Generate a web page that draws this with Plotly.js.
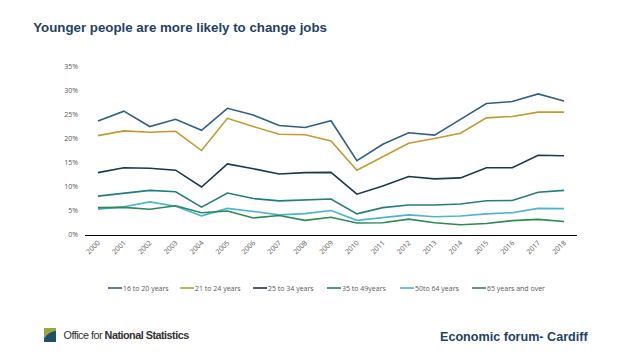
<!DOCTYPE html>
<html><head><meta charset="utf-8">
<script src="https://cdn.plot.ly/plotly-3.0.1.min.js"></script>
<style>html,body{margin:0;padding:0;background:#fff;}#chart{width:638px;height:359px;}
.annotation[data-index="0"] text{letter-spacing:-0.5px;}</style>
</head><body><div id="chart"></div>
<script>
const years = ["2000","2001","2002","2003","2004","2005","2006","2007","2008","2009","2010","2011","2012","2013","2014","2015","2016","2017","2018"];
const age16to20 = [23.75,25.8,22.6,24.1,21.8,26.4,25.0,22.8,22.4,23.8,15.5,18.9,21.3,20.8,24.1,27.4,27.8,29.4,27.9];
const age21to24 = [20.7,21.7,21.4,21.6,17.6,24.3,22.6,21.0,20.9,19.6,13.5,16.3,19.1,20.1,21.2,24.4,24.7,25.6,25.6];
const age25to34 = [13.0,14.0,13.9,13.5,10.0,14.8,13.8,12.7,13.0,13.05,8.5,10.2,12.2,11.7,11.9,14.0,14.0,16.6,16.5];
const age35to49 = [8.1,8.75,9.3,9.0,5.8,8.75,7.6,7.1,7.3,7.5,4.4,5.7,6.25,6.25,6.45,7.15,7.2,8.9,9.3];
const age50to64 = [5.4,5.9,6.9,6.0,4.0,5.55,4.9,4.2,4.45,5.1,3.05,3.6,4.2,3.8,3.95,4.4,4.65,5.55,5.5];
const age65plus = [5.7,5.75,5.35,6.1,4.65,5.0,3.55,4.05,3.05,3.7,2.5,2.55,3.3,2.55,2.15,2.4,3.0,3.25,2.8];
const seriesNames = ["16 to 20 years","21 to 24 years","25 to 34 years","35 to 49years","50to 64 years","65 years and over"];
const seriesColors = ["#2f5f8c","#c49a2e","#163a4f","#237d7c","#4bb3d3","#2b8a55"];
const yTicks = [0,5,10,15,20,25,30,35];
const yTickText = ["0%","5%","10%","15%","20%","25%","30%","35%"];

const allSeries = [age16to20,age21to24,age25to34,age35to49,age50to64,age65plus];
const traces = allSeries.map((vals,i)=>({
  type:"scatter", mode:"lines", x:years, y:vals, name:seriesNames[i],
  line:{color:seriesColors[i], width:1.6}, hoverinfo:"skip", showlegend:false
}));

// plot area in pixels (for converting legend placement to paper coords)
const PL = 85, PW = 492, PB = 235, PH = 168;
const px2x = p => (p - PL) / PW;
const py2y = p => (PB - p) / PH;
const legendStarts = [108,180,253,327,400,472];
const legendY = py2y(288);

const shapes = [
  {type:"path", xref:"paper", yref:"paper", path:"M -0.0833 -0.554 L -0.0589 -0.554 L -0.0589 -0.568 Q -0.075 -0.575 -0.0833 -0.615 Z", fillcolor:"#9aa53b", line:{width:0}},
  {type:"path", xref:"paper", yref:"paper", path:"M -0.0833 -0.615 Q -0.075 -0.575 -0.0589 -0.568 L -0.0589 -0.637 L -0.0833 -0.637 Z", fillcolor:"#1d4f6f", line:{width:0}}
];
const annotations = [
  {xref:"paper", yref:"paper", x:-0.064, y:-0.597, xanchor:"left", yanchor:"middle", showarrow:false,
   text:"Office for <b>National Statistics</b>", font:{family:"Liberation Sans, sans-serif", size:10.8, color:"#333"}},
  {xref:"paper", yref:"paper", x:1.027, y:-0.605, xanchor:"right", yanchor:"middle", showarrow:false,
   text:"<b>Economic forum- Cardiff</b>", font:{family:"Liberation Sans, Arial, sans-serif", size:12.6, color:"#1f4363"}}
];
seriesNames.forEach((nm,i)=>{
  const s = legendStarts[i];
  shapes.push({type:"line", xref:"paper", yref:"paper", x0:px2x(s), x1:px2x(s+14), y0:legendY, y1:legendY,
    line:{color:seriesColors[i], width:1.6}});
  annotations.push({xref:"paper", yref:"paper", x:px2x(s+14), y:legendY, xanchor:"left", yanchor:"middle", showarrow:false,
    text:nm, font:{family:"Open Sans, sans-serif", size:7, color:"#595959"}, borderpad:0});
});

const layout = {
  width:638, height:359,
  margin:{l:85, r:61, t:67, b:124},
  paper_bgcolor:"#fff", plot_bgcolor:"#fff",
  showlegend:false,
  font:{family:"Liberation Sans, Arial, sans-serif", color:"#595959"},
  title:{text:"<b>Younger people are more likely to change jobs</b>", x:0.052, xanchor:"left", y:0.925, yanchor:"middle",
    font:{family:"Liberation Sans, Arial, sans-serif", size:13.3, color:"#1f4363"}},
  xaxis:{type:"category", range:[-0.5,18.5], showgrid:false, zeroline:false, showline:true, linecolor:"#000", linewidth:1,
    ticks:"", tickangle:-45, tickfont:{family:"Open Sans, sans-serif", size:7, color:"#595959"}, fixedrange:true},
  yaxis:{range:[0,35], tickvals:yTicks, ticktext:yTickText, showgrid:false, zeroline:false, showline:false,
    ticks:"", ticklabelstandoff:6, tickfont:{family:"Open Sans, sans-serif", size:7, color:"#595959"}, fixedrange:true},
  shapes:shapes,
  annotations:annotations
};
Plotly.newPlot("chart", traces, layout, {displayModeBar:false, staticPlot:true});
</script></body></html>
